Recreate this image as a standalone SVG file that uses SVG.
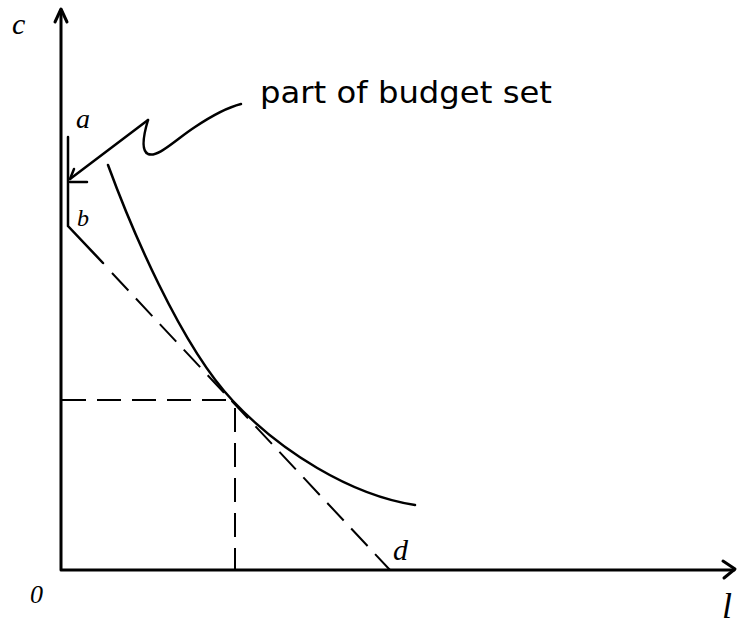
<svg xmlns="http://www.w3.org/2000/svg" width="738" height="626" viewBox="0 0 738 626">
<style>
.ax{stroke:#000;stroke-width:3;fill:none;stroke-linecap:round;stroke-linejoin:round}
.ln{stroke:#000;stroke-width:2.5;fill:none;stroke-linecap:round}
.dash{stroke:#000;stroke-width:2;fill:none;stroke-dasharray:24,11}
.lbl{font-family:"Liberation Serif",serif;font-style:italic;fill:#000}
.txt{font-family:"DejaVu Sans","Liberation Sans",sans-serif;fill:#000}
</style>
<rect width="738" height="626" fill="#fff"/>
<g id="axes">
<path class="ax" d="M61,10 L61,570 L734,570"/>
<path class="ax" d="M55,22 L61,9 L67,22"/>
<path class="ax" d="M723,561 L735,569 L724,578"/>
</g>
<g id="labels">
<text class="lbl" x="12" y="34" font-size="30">c</text>
<text class="lbl" x="30" y="603" font-size="26">0</text>
<text class="lbl" x="722" y="618" font-size="36">l</text>
<text class="lbl" x="76" y="128" font-size="28">a</text>
<text class="lbl" x="77" y="226" font-size="24">b</text>
<text class="lbl" x="393" y="560" font-size="30">d</text>
</g>
<g id="budget">
<path class="ln" d="M68,137 L68,226 L103,263" stroke-width="3"/>
<path class="dash" d="M112,273 L390,570" stroke-width="2.5"/>
<path class="ln" d="M70,182 L87,182" stroke-width="2"/>
</g>
<g id="indifference">
<path class="ln" stroke-width="3" d="M108,165 C130,225 180,345 233,401 C280,451 350,495 415,505"/>
</g>
<g id="guides">
<path class="dash" d="M62,400 L233,400"/>
<path class="dash" d="M235,408 L235,570" stroke-dasharray="20,14"/>
</g>
<g id="callout">
<path class="ln" stroke-width="1.8" d="M70,179 L148,120"/>
<path class="ln" stroke-width="1.8" d="M70,179 L74,169"/>
<path class="ln" stroke-width="2.5" d="M148,120 C145,130 140,150 148,154 C158,158 175,140 195,127 C210,117 225,108 241,104"/>
<text class="txt" x="260" y="103" font-size="30" textLength="292" lengthAdjust="spacingAndGlyphs">part of budget set</text>
</g>
</svg>
